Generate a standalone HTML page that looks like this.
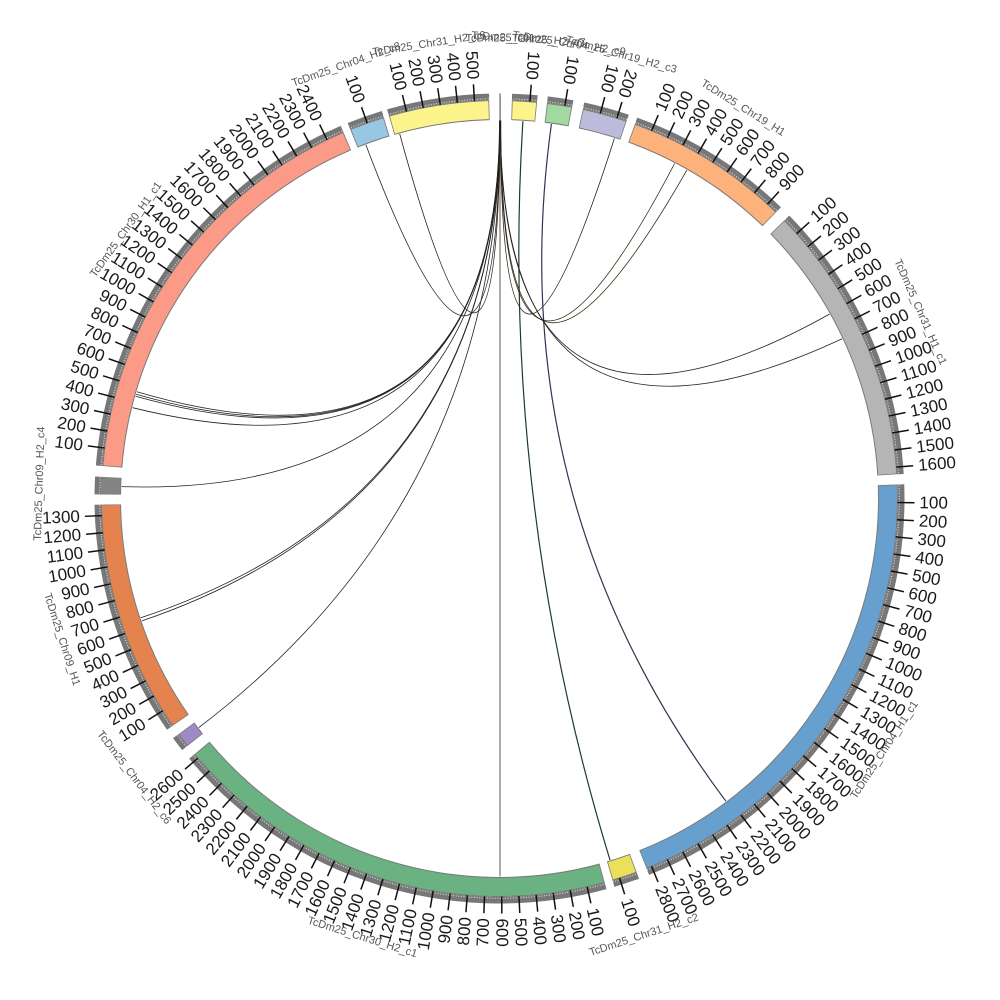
<!DOCTYPE html>
<html><head><meta charset="utf-8"><style>
html,body{margin:0;padding:0;background:#fff;width:1000px;height:1000px;overflow:hidden;}
svg{display:block;}
.o{font-family:"Liberation Sans",Arial,sans-serif;font-size:17px;fill:#1a1a1a;text-anchor:start;dominant-baseline:central;}
.i{font-family:"Liberation Sans",Arial,sans-serif;font-size:17px;fill:#1a1a1a;text-anchor:end;dominant-baseline:central;}
.n{font-family:"Liberation Sans",Arial,sans-serif;font-size:11px;fill:#555;text-anchor:middle;dominant-baseline:central;}
</style></head><body>
<svg width="1000" height="1000" viewBox="0 0 1000 1000" xmlns="http://www.w3.org/2000/svg">
<rect width="1000" height="1000" fill="#fff"/>
<g transform="translate(499.5,498.5)">
<!-- outlines -->
<g fill="none" stroke="#7a7a7a" stroke-width="20">
<circle r="388.5" transform="rotate(-88.22)" stroke-dasharray="24.65 3000"/>
<circle r="388.5" transform="rotate(-83.15)" stroke-dasharray="24.86 3000"/>
<circle r="388.5" transform="rotate(-77.92)" stroke-dasharray="44.32 3000"/>
<circle r="388.5" transform="rotate(-70.12)" stroke-dasharray="163.66 3000"/>
<circle r="388.5" transform="rotate(-44.32)" stroke-dasharray="276.89 3000"/>
<circle r="388.5" transform="rotate(-2.02)" stroke-dasharray="476.92 3000"/>
<circle r="388.5" transform="rotate(69.85)" stroke-dasharray="24.86 3000"/>
<circle r="388.5" transform="rotate(74.68)" stroke-dasharray="443.02 3000"/>
<circle r="388.5" transform="rotate(141.58)" stroke-dasharray="14.48 3000"/>
<circle r="388.5" transform="rotate(145.18)" stroke-dasharray="230.11 3000"/>
<circle r="388.5" transform="rotate(180.58)" stroke-dasharray="17.2 3000"/>
<circle r="388.5" transform="rotate(184.68)" stroke-dasharray="422 3000"/>
<circle r="388.5" transform="rotate(247.98)" stroke-dasharray="34.82 3000"/>
<circle r="388.5" transform="rotate(253.88)" stroke-dasharray="99.24 3000"/>
</g>
<!-- colored ring -->
<g fill="none" stroke-width="18">
<circle r="388.5" stroke="#fdf38b" transform="rotate(-88.1)" stroke-dasharray="23.05 3000"/>
<circle r="388.5" stroke="#a2d9a0" transform="rotate(-83.03)" stroke-dasharray="23.26 3000"/>
<circle r="388.5" stroke="#bcbbdc" transform="rotate(-77.8)" stroke-dasharray="42.72 3000"/>
<circle r="388.5" stroke="#fdb27c" transform="rotate(-70)" stroke-dasharray="162.06 3000"/>
<circle r="388.5" stroke="#b5b5b5" transform="rotate(-44.2)" stroke-dasharray="275.29 3000"/>
<circle r="388.5" stroke="#67a0cf" transform="rotate(-1.9)" stroke-dasharray="475.32 3000"/>
<circle r="388.5" stroke="#ebe05a" transform="rotate(69.97)" stroke-dasharray="23.26 3000"/>
<circle r="388.5" stroke="#6bb283" transform="rotate(74.8)" stroke-dasharray="441.42 3000"/>
<circle r="388.5" stroke="#9d8ac6" transform="rotate(141.7)" stroke-dasharray="12.88 3000"/>
<circle r="388.5" stroke="#e5834f" transform="rotate(145.3)" stroke-dasharray="228.51 3000"/>
<circle r="388.5" stroke="#848484" transform="rotate(180.7)" stroke-dasharray="15.6 3000"/>
<circle r="388.5" stroke="#fb9a86" transform="rotate(184.8)" stroke-dasharray="420.4 3000"/>
<circle r="388.5" stroke="#97c7e3" transform="rotate(248.1)" stroke-dasharray="33.22 3000"/>
<circle r="388.5" stroke="#fdf38b" transform="rotate(254)" stroke-dasharray="97.64 3000"/>
</g>
<!-- tick band -->
<g fill="none" stroke="#777" stroke-width="6.5">
<circle r="401.75" transform="rotate(-88.22)" stroke-dasharray="25.52 3000"/>
<circle r="401.75" transform="rotate(-83.15)" stroke-dasharray="25.73 3000"/>
<circle r="401.75" transform="rotate(-77.92)" stroke-dasharray="45.86 3000"/>
<circle r="401.75" transform="rotate(-70.12)" stroke-dasharray="169.27 3000"/>
<circle r="401.75" transform="rotate(-44.32)" stroke-dasharray="286.37 3000"/>
<circle r="401.75" transform="rotate(-2.02)" stroke-dasharray="493.22 3000"/>
<circle r="401.75" transform="rotate(69.85)" stroke-dasharray="25.73 3000"/>
<circle r="401.75" transform="rotate(74.68)" stroke-dasharray="458.16 3000"/>
<circle r="401.75" transform="rotate(141.58)" stroke-dasharray="15.01 3000"/>
<circle r="401.75" transform="rotate(145.18)" stroke-dasharray="237.98 3000"/>
<circle r="401.75" transform="rotate(180.58)" stroke-dasharray="17.81 3000"/>
<circle r="401.75" transform="rotate(184.68)" stroke-dasharray="436.42 3000"/>
<circle r="401.75" transform="rotate(247.98)" stroke-dasharray="36.04 3000"/>
<circle r="401.75" transform="rotate(253.88)" stroke-dasharray="102.65 3000"/>
</g>
<circle r="399.8" fill="none" stroke="#fff" stroke-opacity="0.8" stroke-width="1" stroke-dasharray="1 1.6"/>
<!-- chromosome A -->
<line x1="0.6" y1="-378" x2="0.6" y2="-405" stroke="#888" stroke-width="1.6"/>

<!-- links -->
<g fill="none" stroke="#222" stroke-width="0.8">
<path d="M0.5 -378 L0.5 378" stroke="#3b2c14"/>
<path d="M23.4 -377.3 Q0 0 110.5 361.5" stroke="#1e3a30" stroke-width="1.2"/>
<path d="M51.9 -374.4 Q0 0 226.4 302.7" stroke="#3a3050" stroke-width="1.2"/>
<path d="M114.9 -360.1 Q0 0 1.2 -378"/>
<path d="M175.1 -335 Q0 0 1 -378" stroke="#2a2a10"/>
<path d="M187.3 -328.3 Q0 0 1.3 -378" stroke="#2a2a10"/>
<path d="M330 -184.4 Q0 0 0.8 -378"/>
<path d="M342.6 -159.7 Q0 0 1 -378"/>
<path d="M-133.6 -353.6 Q0 0 0.2 -378"/>
<path d="M-99.8 -364.6 Q0 0 0.3 -378" stroke="#2a1a10"/>
<path d="M-362.6 -106.7 Q0 0 0 -378"/>
<path d="M-363.4 -104.2 Q0 0 0.2 -378"/>
<path d="M-363.9 -102.3 Q0 0 0.4 -378"/>
<path d="M-366.9 -90.8 Q0 0 0.3 -378"/>
<path d="M-377.8 -11.9 Q0 0 0.5 -378"/>
<path d="M-358.7 119.3 Q0 0 0.6 -378"/>
<path d="M-357.6 122.4 Q0 0 0.8 -378"/>
<path d="M-300.7 229.1 Q0 0 0.7 -378"/>
</g>

<!-- major ticks -->
<g stroke="#111" stroke-width="1.5">
<line transform="rotate(4.38)" y1="-398" y2="-415"/>
<line transform="rotate(9.45)" y1="-398" y2="-415"/>
<line transform="rotate(14.68)" y1="-398" y2="-415"/>
<line transform="rotate(17.16)" y1="-398" y2="-415"/>
<line transform="rotate(22.48)" y1="-398" y2="-415"/>
<line transform="rotate(24.96)" y1="-398" y2="-415"/>
<line transform="rotate(27.44)" y1="-398" y2="-415"/>
<line transform="rotate(29.92)" y1="-398" y2="-415"/>
<line transform="rotate(32.40)" y1="-398" y2="-415"/>
<line transform="rotate(34.88)" y1="-398" y2="-415"/>
<line transform="rotate(37.36)" y1="-398" y2="-415"/>
<line transform="rotate(39.84)" y1="-398" y2="-415"/>
<line transform="rotate(42.32)" y1="-398" y2="-415"/>
<line transform="rotate(48.28)" y1="-398" y2="-415"/>
<line transform="rotate(50.76)" y1="-398" y2="-415"/>
<line transform="rotate(53.24)" y1="-398" y2="-415"/>
<line transform="rotate(55.72)" y1="-398" y2="-415"/>
<line transform="rotate(58.20)" y1="-398" y2="-415"/>
<line transform="rotate(60.68)" y1="-398" y2="-415"/>
<line transform="rotate(63.16)" y1="-398" y2="-415"/>
<line transform="rotate(65.64)" y1="-398" y2="-415"/>
<line transform="rotate(68.12)" y1="-398" y2="-415"/>
<line transform="rotate(70.60)" y1="-398" y2="-415"/>
<line transform="rotate(73.08)" y1="-398" y2="-415"/>
<line transform="rotate(75.56)" y1="-398" y2="-415"/>
<line transform="rotate(78.04)" y1="-398" y2="-415"/>
<line transform="rotate(80.52)" y1="-398" y2="-415"/>
<line transform="rotate(83.00)" y1="-398" y2="-415"/>
<line transform="rotate(85.48)" y1="-398" y2="-415"/>
<line transform="rotate(90.58)" y1="-398" y2="-415"/>
<line transform="rotate(93.06)" y1="-398" y2="-415"/>
<line transform="rotate(95.54)" y1="-398" y2="-415"/>
<line transform="rotate(98.02)" y1="-398" y2="-415"/>
<line transform="rotate(100.50)" y1="-398" y2="-415"/>
<line transform="rotate(102.98)" y1="-398" y2="-415"/>
<line transform="rotate(105.46)" y1="-398" y2="-415"/>
<line transform="rotate(107.94)" y1="-398" y2="-415"/>
<line transform="rotate(110.42)" y1="-398" y2="-415"/>
<line transform="rotate(112.90)" y1="-398" y2="-415"/>
<line transform="rotate(115.38)" y1="-398" y2="-415"/>
<line transform="rotate(117.86)" y1="-398" y2="-415"/>
<line transform="rotate(120.34)" y1="-398" y2="-415"/>
<line transform="rotate(122.82)" y1="-398" y2="-415"/>
<line transform="rotate(125.30)" y1="-398" y2="-415"/>
<line transform="rotate(127.78)" y1="-398" y2="-415"/>
<line transform="rotate(130.26)" y1="-398" y2="-415"/>
<line transform="rotate(132.74)" y1="-398" y2="-415"/>
<line transform="rotate(135.22)" y1="-398" y2="-415"/>
<line transform="rotate(137.70)" y1="-398" y2="-415"/>
<line transform="rotate(140.18)" y1="-398" y2="-415"/>
<line transform="rotate(142.66)" y1="-398" y2="-415"/>
<line transform="rotate(145.14)" y1="-398" y2="-415"/>
<line transform="rotate(147.62)" y1="-398" y2="-415"/>
<line transform="rotate(150.10)" y1="-398" y2="-415"/>
<line transform="rotate(152.58)" y1="-398" y2="-415"/>
<line transform="rotate(155.06)" y1="-398" y2="-415"/>
<line transform="rotate(157.54)" y1="-398" y2="-415"/>
<line transform="rotate(162.45)" y1="-398" y2="-415"/>
<line transform="rotate(167.28)" y1="-398" y2="-415"/>
<line transform="rotate(169.76)" y1="-398" y2="-415"/>
<line transform="rotate(172.24)" y1="-398" y2="-415"/>
<line transform="rotate(174.72)" y1="-398" y2="-415"/>
<line transform="rotate(177.20)" y1="-398" y2="-415"/>
<line transform="rotate(179.68)" y1="-398" y2="-415"/>
<line transform="rotate(182.16)" y1="-398" y2="-415"/>
<line transform="rotate(184.64)" y1="-398" y2="-415"/>
<line transform="rotate(187.12)" y1="-398" y2="-415"/>
<line transform="rotate(189.60)" y1="-398" y2="-415"/>
<line transform="rotate(192.08)" y1="-398" y2="-415"/>
<line transform="rotate(194.56)" y1="-398" y2="-415"/>
<line transform="rotate(197.04)" y1="-398" y2="-415"/>
<line transform="rotate(199.52)" y1="-398" y2="-415"/>
<line transform="rotate(202.00)" y1="-398" y2="-415"/>
<line transform="rotate(204.48)" y1="-398" y2="-415"/>
<line transform="rotate(206.96)" y1="-398" y2="-415"/>
<line transform="rotate(209.44)" y1="-398" y2="-415"/>
<line transform="rotate(211.92)" y1="-398" y2="-415"/>
<line transform="rotate(214.40)" y1="-398" y2="-415"/>
<line transform="rotate(216.88)" y1="-398" y2="-415"/>
<line transform="rotate(219.36)" y1="-398" y2="-415"/>
<line transform="rotate(221.84)" y1="-398" y2="-415"/>
<line transform="rotate(224.32)" y1="-398" y2="-415"/>
<line transform="rotate(226.80)" y1="-398" y2="-415"/>
<line transform="rotate(229.28)" y1="-398" y2="-415"/>
<line transform="rotate(237.78)" y1="-398" y2="-415"/>
<line transform="rotate(240.26)" y1="-398" y2="-415"/>
<line transform="rotate(242.74)" y1="-398" y2="-415"/>
<line transform="rotate(245.22)" y1="-398" y2="-415"/>
<line transform="rotate(247.70)" y1="-398" y2="-415"/>
<line transform="rotate(250.18)" y1="-398" y2="-415"/>
<line transform="rotate(252.66)" y1="-398" y2="-415"/>
<line transform="rotate(255.14)" y1="-398" y2="-415"/>
<line transform="rotate(257.62)" y1="-398" y2="-415"/>
<line transform="rotate(260.10)" y1="-398" y2="-415"/>
<line transform="rotate(262.58)" y1="-398" y2="-415"/>
<line transform="rotate(265.06)" y1="-398" y2="-415"/>
<line transform="rotate(267.54)" y1="-398" y2="-415"/>
<line transform="rotate(277.28)" y1="-398" y2="-415"/>
<line transform="rotate(279.76)" y1="-398" y2="-415"/>
<line transform="rotate(282.24)" y1="-398" y2="-415"/>
<line transform="rotate(284.72)" y1="-398" y2="-415"/>
<line transform="rotate(287.20)" y1="-398" y2="-415"/>
<line transform="rotate(289.68)" y1="-398" y2="-415"/>
<line transform="rotate(292.16)" y1="-398" y2="-415"/>
<line transform="rotate(294.64)" y1="-398" y2="-415"/>
<line transform="rotate(297.12)" y1="-398" y2="-415"/>
<line transform="rotate(299.60)" y1="-398" y2="-415"/>
<line transform="rotate(302.08)" y1="-398" y2="-415"/>
<line transform="rotate(304.56)" y1="-398" y2="-415"/>
<line transform="rotate(307.04)" y1="-398" y2="-415"/>
<line transform="rotate(309.52)" y1="-398" y2="-415"/>
<line transform="rotate(312.00)" y1="-398" y2="-415"/>
<line transform="rotate(314.48)" y1="-398" y2="-415"/>
<line transform="rotate(316.96)" y1="-398" y2="-415"/>
<line transform="rotate(319.44)" y1="-398" y2="-415"/>
<line transform="rotate(321.92)" y1="-398" y2="-415"/>
<line transform="rotate(324.40)" y1="-398" y2="-415"/>
<line transform="rotate(326.88)" y1="-398" y2="-415"/>
<line transform="rotate(329.36)" y1="-398" y2="-415"/>
<line transform="rotate(331.84)" y1="-398" y2="-415"/>
<line transform="rotate(334.32)" y1="-398" y2="-415"/>
<line transform="rotate(340.58)" y1="-398" y2="-415"/>
<line transform="rotate(346.48)" y1="-398" y2="-415"/>
<line transform="rotate(348.96)" y1="-398" y2="-415"/>
<line transform="rotate(351.44)" y1="-398" y2="-415"/>
<line transform="rotate(353.92)" y1="-398" y2="-415"/>
<line transform="rotate(356.40)" y1="-398" y2="-415"/>
</g>

<!-- tick labels inward -->
<text class="i" transform="rotate(4.38) translate(0,-420) rotate(90)">100</text>
<text class="i" transform="rotate(9.45) translate(0,-420) rotate(90)">100</text>
<text class="i" transform="rotate(14.68) translate(0,-420) rotate(90)">100</text>
<text class="i" transform="rotate(17.16) translate(0,-420) rotate(90)">200</text>
<!-- E outward -->
<text class="o" transform="rotate(22.48) translate(0,-420) rotate(-90)">100</text>
<text class="o" transform="rotate(24.96) translate(0,-420) rotate(-90)">200</text>
<text class="o" transform="rotate(27.44) translate(0,-420) rotate(-90)">300</text>
<text class="o" transform="rotate(29.92) translate(0,-420) rotate(-90)">400</text>
<text class="o" transform="rotate(32.40) translate(0,-420) rotate(-90)">500</text>
<text class="o" transform="rotate(34.88) translate(0,-420) rotate(-90)">600</text>
<text class="o" transform="rotate(37.36) translate(0,-420) rotate(-90)">700</text>
<text class="o" transform="rotate(39.84) translate(0,-420) rotate(-90)">800</text>
<text class="o" transform="rotate(42.32) translate(0,-420) rotate(-90)">900</text>
<!-- F -->
<text class="o" transform="rotate(48.28) translate(0,-420) rotate(-90)">100</text>
<text class="o" transform="rotate(50.76) translate(0,-420) rotate(-90)">200</text>
<text class="o" transform="rotate(53.24) translate(0,-420) rotate(-90)">300</text>
<text class="o" transform="rotate(55.72) translate(0,-420) rotate(-90)">400</text>
<text class="o" transform="rotate(58.20) translate(0,-420) rotate(-90)">500</text>
<text class="o" transform="rotate(60.68) translate(0,-420) rotate(-90)">600</text>
<text class="o" transform="rotate(63.16) translate(0,-420) rotate(-90)">700</text>
<text class="o" transform="rotate(65.64) translate(0,-420) rotate(-90)">800</text>
<text class="o" transform="rotate(68.12) translate(0,-420) rotate(-90)">900</text>
<text class="o" transform="rotate(70.60) translate(0,-420) rotate(-90)">1000</text>
<text class="o" transform="rotate(73.08) translate(0,-420) rotate(-90)">1100</text>
<text class="o" transform="rotate(75.56) translate(0,-420) rotate(-90)">1200</text>
<text class="o" transform="rotate(78.04) translate(0,-420) rotate(-90)">1300</text>
<text class="o" transform="rotate(80.52) translate(0,-420) rotate(-90)">1400</text>
<text class="o" transform="rotate(83.00) translate(0,-420) rotate(-90)">1500</text>
<text class="o" transform="rotate(85.48) translate(0,-420) rotate(-90)">1600</text>
<!-- G -->
<text class="o" transform="rotate(90.58) translate(0,-420) rotate(-90)">100</text>
<text class="o" transform="rotate(93.06) translate(0,-420) rotate(-90)">200</text>
<text class="o" transform="rotate(95.54) translate(0,-420) rotate(-90)">300</text>
<text class="o" transform="rotate(98.02) translate(0,-420) rotate(-90)">400</text>
<text class="o" transform="rotate(100.50) translate(0,-420) rotate(-90)">500</text>
<text class="o" transform="rotate(102.98) translate(0,-420) rotate(-90)">600</text>
<text class="o" transform="rotate(105.46) translate(0,-420) rotate(-90)">700</text>
<text class="o" transform="rotate(107.94) translate(0,-420) rotate(-90)">800</text>
<text class="o" transform="rotate(110.42) translate(0,-420) rotate(-90)">900</text>
<text class="o" transform="rotate(112.90) translate(0,-420) rotate(-90)">1000</text>
<text class="o" transform="rotate(115.38) translate(0,-420) rotate(-90)">1100</text>
<text class="o" transform="rotate(117.86) translate(0,-420) rotate(-90)">1200</text>
<text class="o" transform="rotate(120.34) translate(0,-420) rotate(-90)">1300</text>
<text class="o" transform="rotate(122.82) translate(0,-420) rotate(-90)">1400</text>
<text class="o" transform="rotate(125.30) translate(0,-420) rotate(-90)">1500</text>
<text class="o" transform="rotate(127.78) translate(0,-420) rotate(-90)">1600</text>
<text class="o" transform="rotate(130.26) translate(0,-420) rotate(-90)">1700</text>
<text class="o" transform="rotate(132.74) translate(0,-420) rotate(-90)">1800</text>
<text class="o" transform="rotate(135.22) translate(0,-420) rotate(-90)">1900</text>
<text class="o" transform="rotate(137.70) translate(0,-420) rotate(-90)">2000</text>
<text class="o" transform="rotate(140.18) translate(0,-420) rotate(-90)">2100</text>
<text class="o" transform="rotate(142.66) translate(0,-420) rotate(-90)">2200</text>
<text class="o" transform="rotate(145.14) translate(0,-420) rotate(-90)">2300</text>
<text class="o" transform="rotate(147.62) translate(0,-420) rotate(-90)">2400</text>
<text class="o" transform="rotate(150.10) translate(0,-420) rotate(-90)">2500</text>
<text class="o" transform="rotate(152.58) translate(0,-420) rotate(-90)">2600</text>
<text class="o" transform="rotate(155.06) translate(0,-420) rotate(-90)">2700</text>
<text class="o" transform="rotate(157.54) translate(0,-420) rotate(-90)">2800</text>
<!-- H -->
<text class="o" transform="rotate(162.45) translate(0,-420) rotate(-90)">100</text>
<!-- I -->
<text class="o" transform="rotate(167.28) translate(0,-420) rotate(-90)">100</text>
<text class="o" transform="rotate(169.76) translate(0,-420) rotate(-90)">200</text>
<text class="o" transform="rotate(172.24) translate(0,-420) rotate(-90)">300</text>
<text class="o" transform="rotate(174.72) translate(0,-420) rotate(-90)">400</text>
<text class="o" transform="rotate(177.20) translate(0,-420) rotate(-90)">500</text>
<text class="o" transform="rotate(179.68) translate(0,-420) rotate(-90)">600</text>
<text class="i" transform="rotate(182.16) translate(0,-420) rotate(90)">700</text>
<text class="i" transform="rotate(184.64) translate(0,-420) rotate(90)">800</text>
<text class="i" transform="rotate(187.12) translate(0,-420) rotate(90)">900</text>
<text class="i" transform="rotate(189.60) translate(0,-420) rotate(90)">1000</text>
<text class="i" transform="rotate(192.08) translate(0,-420) rotate(90)">1100</text>
<text class="i" transform="rotate(194.56) translate(0,-420) rotate(90)">1200</text>
<text class="i" transform="rotate(197.04) translate(0,-420) rotate(90)">1300</text>
<text class="i" transform="rotate(199.52) translate(0,-420) rotate(90)">1400</text>
<text class="i" transform="rotate(202.00) translate(0,-420) rotate(90)">1500</text>
<text class="i" transform="rotate(204.48) translate(0,-420) rotate(90)">1600</text>
<text class="i" transform="rotate(206.96) translate(0,-420) rotate(90)">1700</text>
<text class="i" transform="rotate(209.44) translate(0,-420) rotate(90)">1800</text>
<text class="i" transform="rotate(211.92) translate(0,-420) rotate(90)">1900</text>
<text class="i" transform="rotate(214.40) translate(0,-420) rotate(90)">2000</text>
<text class="i" transform="rotate(216.88) translate(0,-420) rotate(90)">2100</text>
<text class="i" transform="rotate(219.36) translate(0,-420) rotate(90)">2200</text>
<text class="i" transform="rotate(221.84) translate(0,-420) rotate(90)">2300</text>
<text class="i" transform="rotate(224.32) translate(0,-420) rotate(90)">2400</text>
<text class="i" transform="rotate(226.80) translate(0,-420) rotate(90)">2500</text>
<text class="i" transform="rotate(229.28) translate(0,-420) rotate(90)">2600</text>
<!-- K -->
<text class="i" transform="rotate(237.78) translate(0,-420) rotate(90)">100</text>
<text class="i" transform="rotate(240.26) translate(0,-420) rotate(90)">200</text>
<text class="i" transform="rotate(242.74) translate(0,-420) rotate(90)">300</text>
<text class="i" transform="rotate(245.22) translate(0,-420) rotate(90)">400</text>
<text class="i" transform="rotate(247.70) translate(0,-420) rotate(90)">500</text>
<text class="i" transform="rotate(250.18) translate(0,-420) rotate(90)">600</text>
<text class="i" transform="rotate(252.66) translate(0,-420) rotate(90)">700</text>
<text class="i" transform="rotate(255.14) translate(0,-420) rotate(90)">800</text>
<text class="i" transform="rotate(257.62) translate(0,-420) rotate(90)">900</text>
<text class="i" transform="rotate(260.10) translate(0,-420) rotate(90)">1000</text>
<text class="i" transform="rotate(262.58) translate(0,-420) rotate(90)">1100</text>
<text class="i" transform="rotate(265.06) translate(0,-420) rotate(90)">1200</text>
<text class="i" transform="rotate(267.54) translate(0,-420) rotate(90)">1300</text>
<!-- M -->
<text class="i" transform="rotate(277.28) translate(0,-420) rotate(90)">100</text>
<text class="i" transform="rotate(279.76) translate(0,-420) rotate(90)">200</text>
<text class="i" transform="rotate(282.24) translate(0,-420) rotate(90)">300</text>
<text class="i" transform="rotate(284.72) translate(0,-420) rotate(90)">400</text>
<text class="i" transform="rotate(287.20) translate(0,-420) rotate(90)">500</text>
<text class="i" transform="rotate(289.68) translate(0,-420) rotate(90)">600</text>
<text class="i" transform="rotate(292.16) translate(0,-420) rotate(90)">700</text>
<text class="i" transform="rotate(294.64) translate(0,-420) rotate(90)">800</text>
<text class="i" transform="rotate(297.12) translate(0,-420) rotate(90)">900</text>
<text class="i" transform="rotate(299.60) translate(0,-420) rotate(90)">1000</text>
<text class="i" transform="rotate(302.08) translate(0,-420) rotate(90)">1100</text>
<text class="i" transform="rotate(304.56) translate(0,-420) rotate(90)">1200</text>
<text class="i" transform="rotate(307.04) translate(0,-420) rotate(90)">1300</text>
<text class="i" transform="rotate(309.52) translate(0,-420) rotate(90)">1400</text>
<text class="i" transform="rotate(312.00) translate(0,-420) rotate(90)">1500</text>
<text class="i" transform="rotate(314.48) translate(0,-420) rotate(90)">1600</text>
<text class="i" transform="rotate(316.96) translate(0,-420) rotate(90)">1700</text>
<text class="i" transform="rotate(319.44) translate(0,-420) rotate(90)">1800</text>
<text class="i" transform="rotate(321.92) translate(0,-420) rotate(90)">1900</text>
<text class="i" transform="rotate(324.40) translate(0,-420) rotate(90)">2000</text>
<text class="i" transform="rotate(326.88) translate(0,-420) rotate(90)">2100</text>
<text class="i" transform="rotate(329.36) translate(0,-420) rotate(90)">2200</text>
<text class="i" transform="rotate(331.84) translate(0,-420) rotate(90)">2300</text>
<text class="i" transform="rotate(334.32) translate(0,-420) rotate(90)">2400</text>
<!-- N -->
<text class="i" transform="rotate(340.58) translate(0,-420) rotate(90)">100</text>
<!-- O -->
<text class="i" transform="rotate(346.48) translate(0,-420) rotate(90)">100</text>
<text class="i" transform="rotate(348.96) translate(0,-420) rotate(90)">200</text>
<text class="i" transform="rotate(351.44) translate(0,-420) rotate(90)">300</text>
<text class="i" transform="rotate(353.92) translate(0,-420) rotate(90)">400</text>
<text class="i" transform="rotate(356.40) translate(0,-420) rotate(90)">500</text>

<!-- chromosome names -->
<text class="n" transform="rotate(340.55) translate(0,-460)">TcDm25_Chr04_H2_c8</text>
<text class="n" transform="rotate(351.2) translate(0,-460)">TcDm25_Chr31_H2_c6</text>
<text class="n" transform="rotate(0.1) translate(0,-460)">TcDm25_Tc01</text>
<text class="n" transform="rotate(3.6) translate(0,-460)">TcDm25_Chr25_H2_c7</text>
<text class="n" transform="rotate(8.7) translate(0,-460)">TcDm25_Chr04_H2_c9</text>
<text class="n" transform="rotate(15.35) translate(0,-460)">TcDm25_Chr19_H2_c3</text>
<text class="n" transform="rotate(31.95) translate(0,-460)">TcDm25_Chr19_H1</text>
<text class="n" transform="rotate(66.1) translate(0,-460)">TcDm25_Chr31_H1_c1</text>
<text class="n" transform="rotate(123.15) translate(0,-460) rotate(180)">TcDm25_Chr04_H1_c1</text>
<text class="n" transform="rotate(161.7) translate(0,-460) rotate(180)">TcDm25_Chr31_H2_c2</text>
<text class="n" transform="rotate(197.35) translate(0,-460) rotate(180)">TcDm25_Chr30_H2_c1</text>
<text class="n" transform="rotate(232.65) translate(0,-460) rotate(180)">TcDm25_Chr04_H2_c6</text>
<text class="n" transform="rotate(252.15) translate(0,-460) rotate(180)">TcDm25_Chr09_H1</text>
<text class="n" transform="rotate(271.85) translate(0,-460)">TcDm25_Chr09_H2_c4</text>
<text class="n" transform="rotate(305.75) translate(0,-460)">TcDm25_Chr30_H1_c1</text>
</g>
</svg>
</body></html>
